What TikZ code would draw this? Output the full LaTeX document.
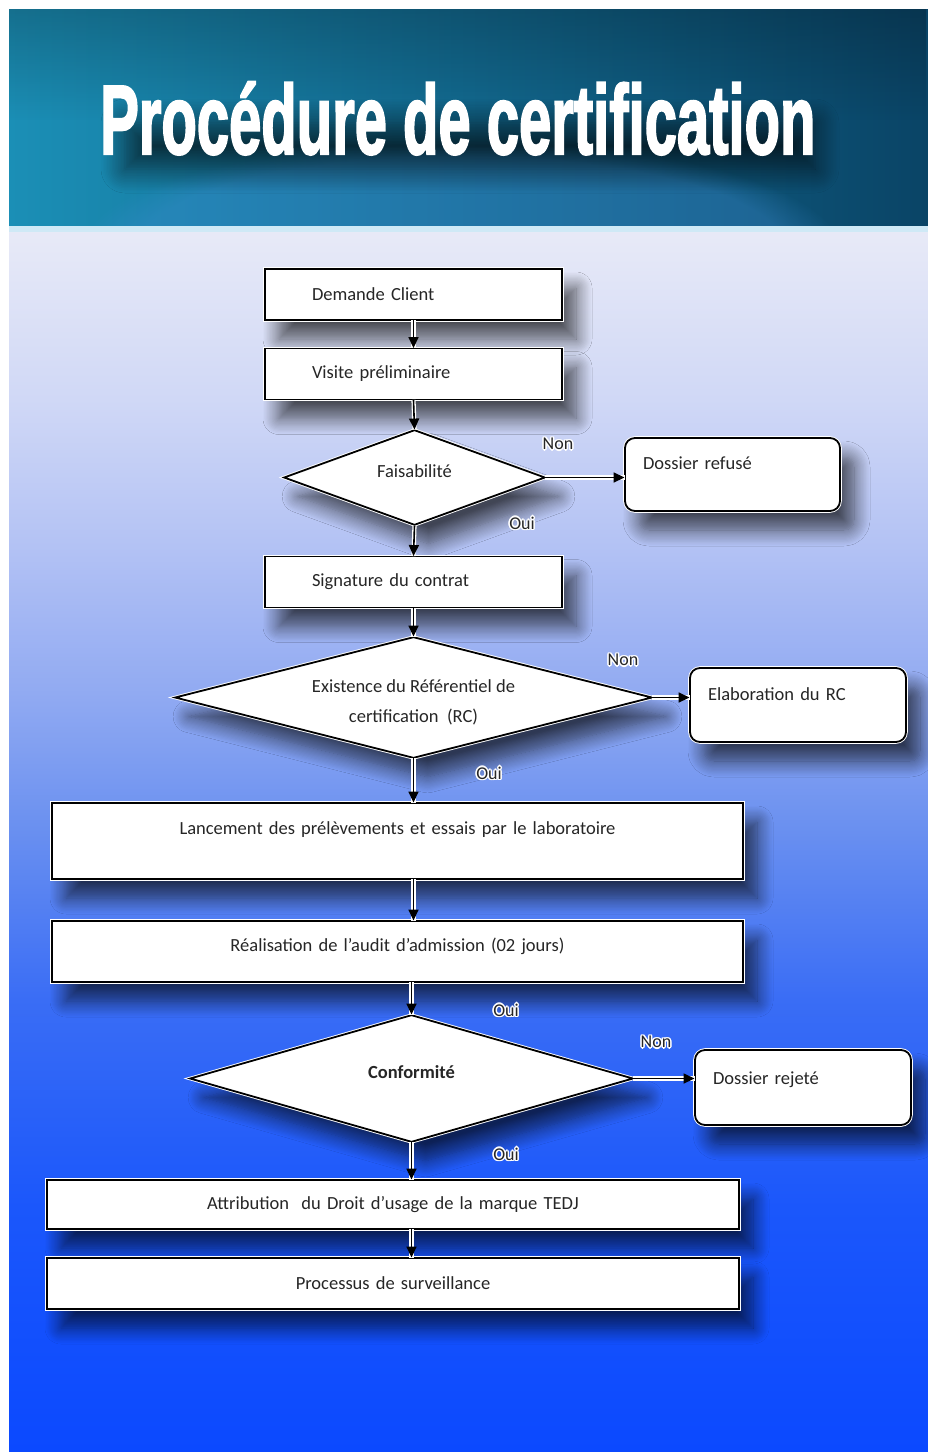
\documentclass[tikz,border=0pt]{standalone}
\usepackage{graphicx}
\usepackage{fontspec}
\setmainfont{Carlito}
\newfontfamily\titlefont[FakeBold=2.5]{Liberation Sans Bold}
\usetikzlibrary{shapes.geometric,arrows.meta,shadows.blur,fadings,calc}

\definecolor{txt}{HTML}{262626}
\definecolor{hdL}{HTML}{1B8FB6}
\definecolor{hdM}{HTML}{12698F}
\definecolor{hdR}{HTML}{0A4466}
\definecolor{bg0}{HTML}{0B49FF}
\definecolor{bg1}{HTML}{1B57FB}
\definecolor{bg2}{HTML}{3A6DF5}
\definecolor{bg3}{HTML}{6A90F0}
\definecolor{bg4}{HTML}{91AAF2}
\definecolor{bg5}{HTML}{B3C2F4}
\definecolor{bg6}{HTML}{D0D8F6}
\definecolor{bg7}{HTML}{E8EAF7}
\definecolor{rim}{HTML}{CFE9F6}

% pgf maps the 25bp--75bp band of a declared shading onto the path
\pgfdeclareverticalshading{bgshade}{100bp}{%
  color(0bp)=(bg0); color(25bp)=(bg0); color(35bp)=(bg1); color(43.5bp)=(bg2);
  color(50.5bp)=(bg3); color(56bp)=(bg4); color(62bp)=(bg5); color(68bp)=(bg6);
  color(75bp)=(bg7); color(100bp)=(bg7)}

\newcommand\haloT[1]{%
  \rlap{\kern1.5pt\textcolor{white}{#1}}%
  \rlap{\kern-1.5pt\textcolor{white}{#1}}%
  \rlap{\raisebox{1.5pt}{\textcolor{white}{#1}}}%
  \rlap{\raisebox{-1.5pt}{\textcolor{white}{#1}}}%
  \rlap{\kern1.1pt\raisebox{1.1pt}{\textcolor{white}{#1}}}%
  \rlap{\kern-1.1pt\raisebox{1.1pt}{\textcolor{white}{#1}}}%
  \rlap{\kern1.1pt\raisebox{-1.1pt}{\textcolor{white}{#1}}}%
  \rlap{\kern-1.1pt\raisebox{-1.1pt}{\textcolor{white}{#1}}}%
  #1}

\tikzset{
  boxsh/.style={blur shadow={shadow xshift=14pt,shadow yshift=-19pt,shadow blur radius=16pt,
    shadow opacity=65, shadow blur steps=14}},
  frame/.style={draw=white, line width=0.9pt, double=black, double distance=1.8pt, fill=white, boxsh,
    font=\fontsize{18.5}{23}\selectfont, text=txt},
  stepbox/.style={frame, rectangle},
  endbox/.style={frame, rectangle, rounded corners=10pt},
  decision/.style={frame, diamond, inner sep=0pt, align=center},
  conn/.style={-{Triangle[length=11pt,width=10pt]}, line width=1.6pt, draw=black,
    preaction={draw=white, line width=4.2pt, -}},
  lab/.style={font=\fontsize{18}{21}\selectfont, text=txt, inner sep=0pt}
}

\begin{document}
\begin{tikzpicture}[x=1pt,y=-1pt]
\useasboundingbox (0,0) rectangle (928,1452);
\fill[white] (0,0) rectangle (928,1452);

% header band
\fill[left color=hdL, right color=hdR, middle color=hdM] (9,9) rectangle (928,228);
\begin{scope}
  \clip (9,9) rectangle (928,228);
  \fill[black, opacity=0.22, path fading=south] (9,9) rectangle (928,120);
  \fill[cyan!60!blue!80!white, opacity=0.35, path fading=circle with fuzzy edge 15 percent]
     (460,250) ellipse (380 and 110);
  % title shadow
  \node[draw=none, fill=none, inner sep=0pt, minimum width=690pt, minimum height=46pt,
    blur shadow={shadow xshift=10pt, shadow yshift=-16pt, shadow blur radius=24pt, shadow opacity=65,
    shadow blur steps=16}]
    (tsh) at (460,130) {};
\end{scope}
% background
\shade[shading=bgshade] (9,228) rectangle (928,1452);
\fill[rim] (9,226) rectangle (928,232);

% title
\node[anchor=south west, inner sep=0pt, text=white] (title) at (100,155)
  {\resizebox{715pt}{72pt}{\titlefont Proc\'edure de certification}};

% process boxes
\node[stepbox, minimum width=297pt, minimum height=51pt, text width=203pt, inner xsep=47pt, align=left]
  (dem) at (413.5,294.5) {Demande Client};
\node[stepbox, minimum width=297pt, minimum height=51pt, text width=203pt, inner xsep=47pt, align=left]
  (vis) at (413.5,374) {Visite pr\'eliminaire};
\node[decision, minimum width=261pt, minimum height=95pt, aspect=2.75, text height=13pt, text depth=13pt]
  (fais) at (414.5,477.5) {Faisabilit\'e};
\node[endbox, minimum width=215pt, minimum height=73pt, text width=179pt, inner xsep=18pt, align=left,
  inner ysep=13pt, text height=18pt, text depth=29pt]
  (ref) at (732.5,474.5) {Dossier refus\'e};
\node[stepbox, minimum width=297pt, minimum height=51pt, text width=203pt, inner xsep=47pt, align=left]
  (sig) at (413.5,582) {Signature du contrat};
\node[decision, minimum width=477pt, minimum height=121pt, aspect=3.94, font=\fontsize{18.5}{30}\selectfont]
  (exi) at (413.5,697.5) {\rule{0pt}{23pt}Existence du R\'ef\'erentiel de\\certification~~(RC)};
\node[endbox, minimum width=216pt, minimum height=74pt, text width=180pt, inner xsep=18pt, align=left,
  inner ysep=13pt, text height=19pt, text depth=29pt]
  (ela) at (798,705) {Elaboration du RC};
\node[stepbox, minimum width=691pt, minimum height=76pt, text width=661pt, inner xsep=15pt, align=center,
  inner ysep=13pt, text height=18pt, text depth=32pt]
  (lan) at (397.5,841) {Lancement des pr\'el\`evements et essais par le laboratoire};
\node[stepbox, minimum width=691pt, minimum height=61pt, text width=661pt, inner xsep=15pt, align=center,
  inner ysep=13pt, text height=17pt, text depth=18pt]
  (rea) at (397.5,951.5) {R\'ealisation de l'audit d'admission (02 jours)};
\node[decision, minimum width=443pt, minimum height=127pt, aspect=3.5, text height=13pt, text depth=14pt]
  (con) at (411.5,1078.5) {\bfseries Conformit\'e};
\node[endbox, minimum width=216pt, minimum height=75pt, text width=180pt, inner xsep=18pt, align=left,
  inner ysep=13pt, text height=21pt, text depth=28pt]
  (rej) at (803,1087.5) {Dossier rejet\'e};
\node[stepbox, minimum width=692pt, minimum height=49pt, text width=662pt, inner xsep=15pt, align=center]
  (att) at (393,1204.5) {Attribution~~du Droit d'usage de la marque TEDJ};
\node[stepbox, minimum width=692pt, minimum height=51pt, text width=662pt, inner xsep=15pt, align=center]
  (pro) at (393,1283.5) {Processus de surveillance};

% connectors
\draw[conn] (dem.south) -- (vis.north);
\draw[conn] (vis.south) -- (fais.north);
\draw[conn] (fais.east) -- (fais.east -| ref.west);
\draw[conn] (fais.south) -- (sig.north);
\draw[conn] (sig.south) -- (exi.north);
\draw[conn] (exi.east) -- (exi.east -| ela.west);
\draw[conn] (exi.south) -- (exi.south |- lan.north);
\draw[conn] (lan.south -| exi.south) -- (exi.south |- rea.north);
\draw[conn] (rea.south -| con.north) -- (con.north);
\draw[conn] (con.east) -- (con.east -| rej.west);
\draw[conn] (con.south) -- (con.south |- att.north);
\draw[conn] (att.south -| con.south) -- (con.south |- pro.north);

% labels
\node[lab] (l1) at (558,444) {\haloT{Non}};
\node[lab] (l2) at (522,523) {\haloT{Oui}};
\node[lab] (l3) at (623,660) {\haloT{Non}};
\node[lab] (l4) at (489,773) {\haloT{Oui}};
\node[lab] (l5) at (506,1010) {\haloT{Oui}};
\node[lab] (l6) at (656,1042) {\haloT{Non}};
\node[lab] (l7) at (506,1154) {\haloT{Oui}};
\end{tikzpicture}
\end{document}
